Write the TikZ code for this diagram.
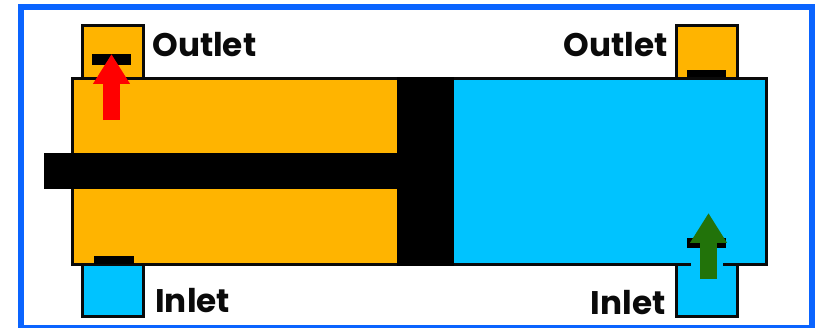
\documentclass[tikz,border=0pt]{standalone}
\usepackage{fontspec}
\setsansfont{Poppins}
\usetikzlibrary{arrows.meta}
\definecolor{COIL}{HTML}{FFB400}
\definecolor{CWAT}{HTML}{00C3FF}
\definecolor{CFRAME}{HTML}{0A64FF}
\definecolor{CRED}{HTML}{FF0000}
\definecolor{CGREEN}{HTML}{22730A}
\definecolor{INKc}{HTML}{0A0A0A}

\begin{document}
\begin{tikzpicture}[
  x=0.02cm, y=-0.02cm,
  % chamber and port outline
  wall/.style={draw=INKc, line width=0.06cm},
  % port label
  lab/.style={font=\sffamily\bfseries\fontsize{18.6}{20}\selectfont, color=INKc, inner sep=0pt},
  % flow arrow
  flow/.style={-{Triangle[length=0.6cm, width=0.7cm]}, line width=0.35cm},
]
\useasboundingbox (0,0) rectangle (815,328);

% ---------- Frame ----------
\draw[draw=CFRAME, line width=0.12cm] (21,7) rectangle (812,328);

% ---------- Ports ----------
\draw[wall, fill=COIL] (82.5,25.5) rectangle (143.5,78);
\draw[wall, fill=CWAT] (82.5,264) rectangle (143.5,316.5);
\draw[wall, fill=COIL] (676.5,25.5) rectangle (737.5,78);
\draw[wall, fill=CWAT] (676.5,264) rectangle (737.5,316.5);

% ---------- Cylinder ----------
\draw[wall, fill=COIL] (72.5,78.5) rectangle (425,264.5);
\draw[wall, fill=CWAT] (425,78.5) rectangle (766,264.5);
\fill[black] (397,77) rectangle (454,266);
\fill[black] (44,153) rectangle (397,189);

% ---------- Valve seats ----------
\fill[black] (92,54) rectangle (131,65);
\fill[black] (94,256) rectangle (134,264);
\fill[black] (687,70) rectangle (726,77);
\fill[black] (687,238) rectangle (726,248);
\fill[CWAT] (691,262) rectangle (723,267);

% ---------- Flow arrows ----------
\coordinate (RA) at (111.5,120);
\coordinate (RB) at (111.5,54);
\coordinate (GA) at (708.5,279);
\coordinate (GB) at (708.5,213);
\draw[flow, color=CRED] (RA) -- (RB);
\draw[flow, color=CGREEN] (GA) -- (GB);

% ---------- Labels ----------
\node[lab, anchor=west] (OL) at (152,45) {Outlet};
\node[lab, anchor=east] (OR) at (668,45) {Outlet};
\node[lab, anchor=west] (IL) at (155,301) {Inlet};
\node[lab, anchor=east] (IR) at (666,303) {Inlet};

\end{tikzpicture}
\end{document}
